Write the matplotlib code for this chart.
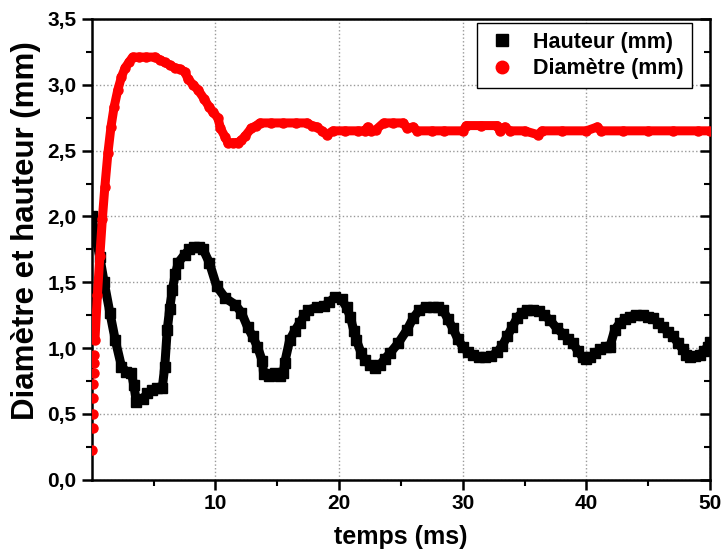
import matplotlib
matplotlib.use("Agg")
import matplotlib.pyplot as plt
from matplotlib.lines import Line2D

plt.rcParams['font.family'] = ['Liberation Sans', 'DejaVu Sans']
plt.rcParams['font.weight'] = 'bold'

# Hauteur (mm) vs temps (ms)
t_h = [0.0, 0.3, 0.65, 1.0, 1.46, 1.9, 2.4, 2.8, 3.2, 3.4, 3.6, 4.1, 4.5, 4.85, 5.3, 5.7,
       5.9, 6.1, 6.3, 6.5, 6.75, 7.0, 7.5, 7.9, 8.3, 8.7, 9.0, 9.5, 10.1, 10.8, 11.6, 12.1,
       12.6, 13.0, 13.4, 13.8, 13.9, 14.3, 14.8, 15.2, 15.5, 15.6, 16.0, 16.4, 16.8, 17.2,
       17.5, 18.2, 18.8, 19.2, 19.7, 20.2, 20.6, 20.9, 21.2, 21.4, 21.8, 22.1, 22.5, 22.9,
       23.3, 23.7, 24.1, 24.8, 25.5, 26.0, 26.5, 27.0, 27.6, 28.0, 28.4, 28.8, 29.2, 29.6,
       30.0, 30.4, 30.8, 31.3, 31.8, 32.3, 32.8, 33.2, 33.6, 34.0, 34.4, 34.8, 35.2, 35.7,
       36.2, 36.6, 37.1, 37.6, 38.1, 38.5, 38.9, 39.3, 39.7, 40.0, 40.3, 40.7, 41.1, 41.6,
       41.9, 42.3, 42.7, 43.1, 43.5, 44.0, 44.6, 45.0, 45.4, 45.8, 46.2, 46.6, 47.0, 47.4,
       47.8, 48.1, 48.4, 48.8, 49.2, 49.5, 49.8, 50.0]
hauteur = [2.00, 1.85, 1.69, 1.50, 1.27, 1.06, 0.86, 0.82, 0.81, 0.72, 0.59, 0.61, 0.66, 0.68, 0.70, 0.70,
           0.86, 1.14, 1.30, 1.44, 1.56, 1.65, 1.71, 1.75, 1.77, 1.77, 1.75, 1.65, 1.47, 1.38, 1.33, 1.27,
           1.16, 1.09, 1.01, 0.90, 0.80, 0.79, 0.81, 0.79, 0.81, 0.89, 1.06, 1.13, 1.19, 1.25,
           1.29, 1.31, 1.32, 1.35, 1.39, 1.37, 1.31, 1.24, 1.13, 1.06, 0.96, 0.91, 0.87, 0.85,
           0.87, 0.92, 0.96, 1.04, 1.14, 1.23, 1.29, 1.31, 1.31, 1.31, 1.29, 1.22, 1.15, 1.07,
           1.01, 0.97, 0.95, 0.93, 0.93, 0.94, 0.97, 1.02, 1.09, 1.16, 1.23, 1.27, 1.29, 1.29,
           1.28, 1.25, 1.21, 1.15, 1.11, 1.07, 1.04, 0.98, 0.93, 0.92, 0.93, 0.96, 0.99, 1.01,
           1.01, 1.14, 1.19, 1.22, 1.24, 1.25, 1.25, 1.24, 1.23, 1.19, 1.16, 1.12, 1.09, 1.04,
           0.99, 0.95, 0.93, 0.94, 0.95, 0.98, 1.01, 1.05]

# Diamètre (mm) vs temps (ms)
t_d = [0.05, 0.07, 0.09, 0.11, 0.13, 0.15, 0.17, 0.19, 0.25, 0.45, 0.65, 0.85, 1.05, 1.3,
       1.55, 1.8, 2.1, 2.4, 2.7, 3.0, 3.3, 3.8, 4.4, 5.1, 5.5, 5.9, 6.3, 6.7, 7.1, 7.5, 7.8,
       8.2, 8.6, 9.1, 9.5, 9.8, 10.2, 10.4, 10.8, 11.0, 11.4, 11.8, 12.1, 12.4, 12.9, 13.3,
       13.6, 14.5, 15.5, 16.5, 17.4, 17.8, 18.2, 18.6, 19.0, 19.5, 20.5, 21.5, 22.1, 22.3,
       22.6, 23.0, 23.6, 24.4, 25.2, 25.5, 26.0, 26.3, 27.5, 28.5, 30.0, 30.3, 31.5, 32.8,
       33.0, 33.4, 33.8, 35.0, 36.1, 36.4, 38.0, 40.0, 40.9, 41.2, 43.0, 45.0, 47.0, 49.0, 50.0]
diametre = [0.23, 0.39, 0.50, 0.62, 0.73, 0.81, 0.89, 0.95, 1.06, 1.40, 1.70, 1.98, 2.22, 2.48,
            2.68, 2.83, 2.96, 3.06, 3.13, 3.17, 3.21, 3.21, 3.21, 3.21, 3.19, 3.17, 3.15, 3.13, 3.12, 3.10, 3.04,
            3.00, 2.96, 2.89, 2.83, 2.79, 2.75, 2.67, 2.60, 2.56, 2.56, 2.56, 2.58, 2.61, 2.67, 2.69,
            2.71, 2.71, 2.71, 2.71, 2.71, 2.69, 2.68, 2.65, 2.62, 2.65, 2.65, 2.65, 2.65, 2.68,
            2.65, 2.66, 2.71, 2.71, 2.71, 2.67, 2.68, 2.65, 2.65, 2.65, 2.65, 2.69, 2.69, 2.69,
            2.65, 2.68, 2.65, 2.65, 2.62, 2.65, 2.65, 2.65, 2.68, 2.65, 2.65, 2.65, 2.65, 2.65, 2.65]

x_ticks = [10, 20, 30, 40, 50]
x_minor = [5, 15, 25, 35, 45]
y_ticks = [0.0, 0.5, 1.0, 1.5, 2.0, 2.5, 3.0, 3.5]
y_labels = ['0,0', '0,5', '1,0', '1,5', '2,0', '2,5', '3,0', '3,5']
y_minor = [0.25, 0.75, 1.25, 1.75, 2.25, 2.75, 3.25]

fig = plt.figure(figsize=(7.23, 5.56), dpi=100)
ax = fig.add_axes([0.127, 0.137, 0.855, 0.829])

# thick band through the points, then the markers themselves
ax.plot(t_h, hauteur, '-', color='black', lw=6.5, solid_capstyle='butt', zorder=3)
ax.plot(t_h, hauteur, 's', color='black', ms=6.5, zorder=3)
ax.plot(t_d[8:], diametre[8:], '-', color='red', lw=6.5, solid_capstyle='round', zorder=4)
ax.plot(t_d, diametre, 'o', color='red', ms=6.5, zorder=4)

ax.set_xlim(0, 50)
ax.set_ylim(0, 3.5)
ax.set_xticks(x_ticks)
ax.set_xticks(x_minor, minor=True)
ax.set_yticks(y_ticks)
ax.set_yticklabels(y_labels)
ax.set_yticks(y_minor, minor=True)
ax.grid(True, which='major', ls=':', color='#999999', lw=1)
ax.set_axisbelow(True)

for s in ax.spines.values():
    s.set_linewidth(1.8)
ax.tick_params(which='major', length=7, width=1.8, labelsize=15, direction='out')
ax.tick_params(which='minor', length=4, width=1.5, direction='out')
ax.tick_params(axis='y', which='both', right=True)
ax.tick_params(axis='y', which='major', pad=4)
# right ticks point inwards
for tk in ax.yaxis.get_major_ticks() + ax.yaxis.get_minor_ticks():
    tk.tick2line.set_marker(matplotlib.markers.TICKLEFT)

ax.set_xlabel('temps (ms)', fontsize=18, fontweight='bold', labelpad=8)
ax.set_ylabel('Diamètre et hauteur (mm)', fontsize=22.5, fontweight='bold')
ax.yaxis.set_label_coords(-0.083, 0.54)

handles = [Line2D([], [], ls='none', marker='s', color='black', ms=8),
           Line2D([], [], ls='none', marker='o', color='red', ms=9)]
leg = ax.legend(handles, ['Hauteur (mm)', 'Diamètre (mm)'], loc='upper right',
                bbox_to_anchor=(0.978, 1.0), fontsize=15.5, frameon=True, fancybox=False,
                edgecolor='black', framealpha=1, borderpad=0.4, labelspacing=0.25,
                handlelength=1.5, handletextpad=0.7, borderaxespad=0.2)
leg.get_frame().set_linewidth(1.0)

fig.savefig('out.png', dpi=100)
